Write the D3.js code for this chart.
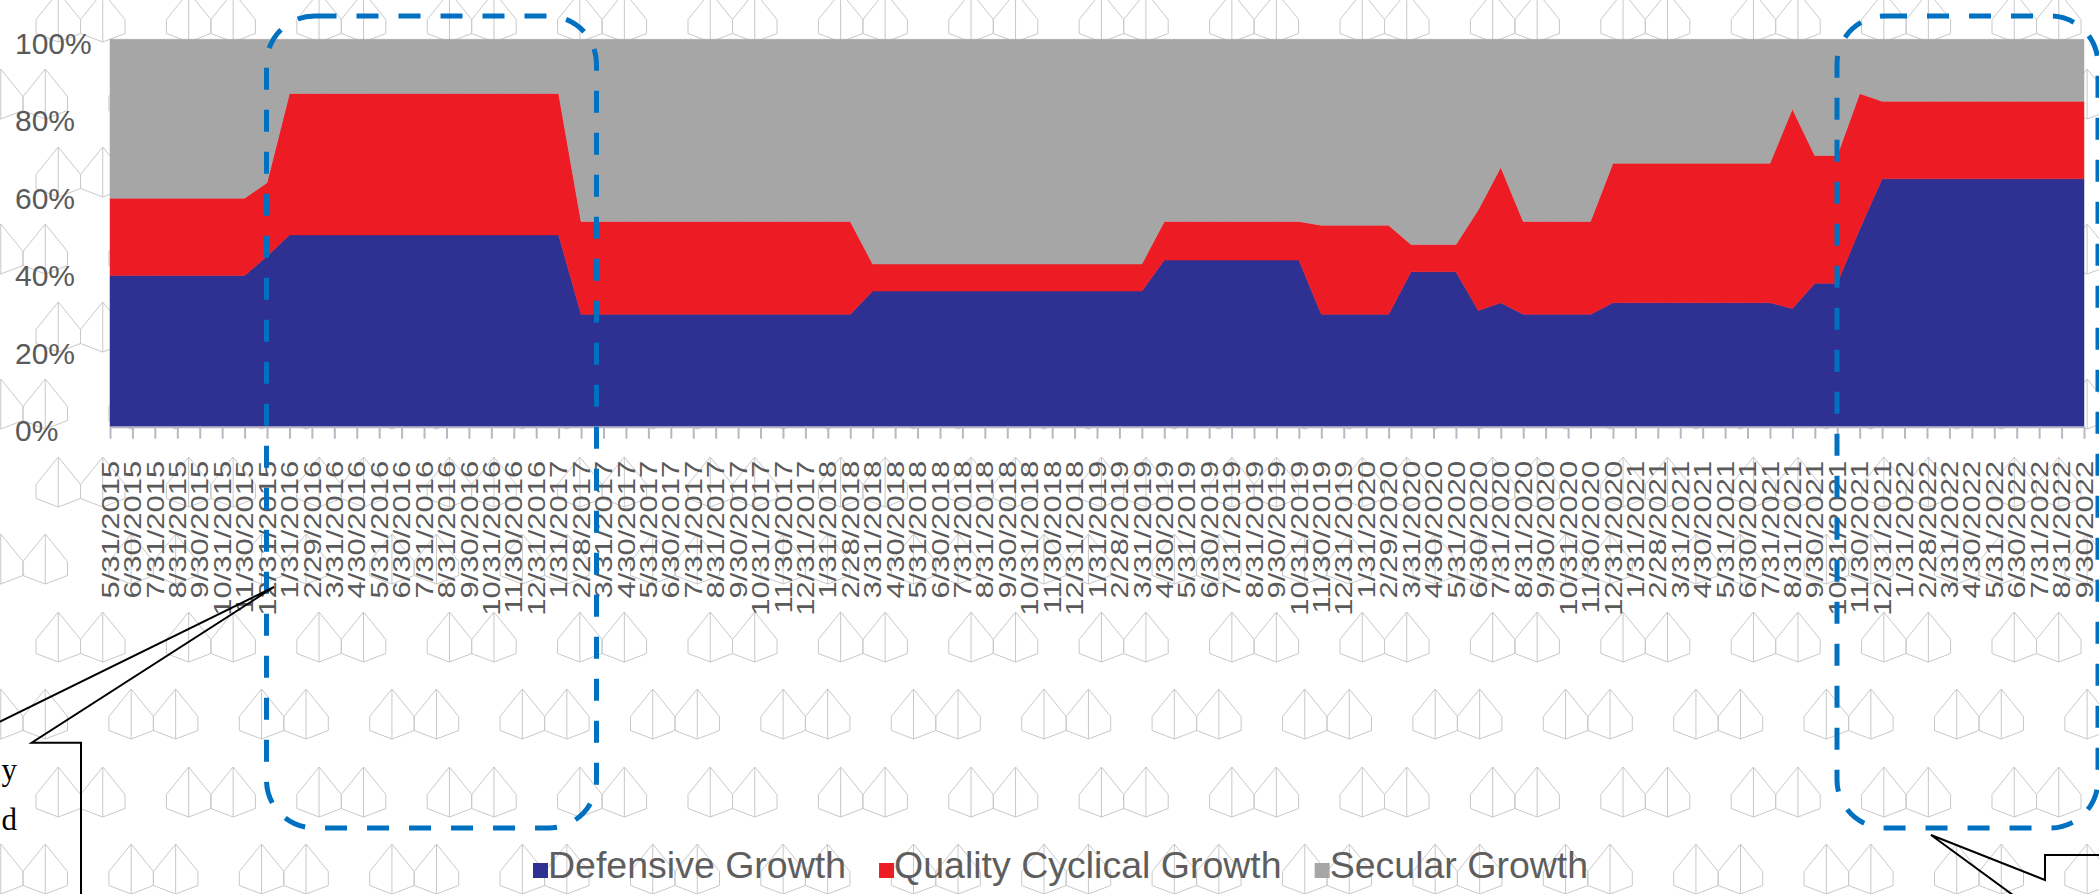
<!DOCTYPE html>
<html>
<head>
<meta charset="utf-8">
<script src="https://cdn.jsdelivr.net/npm/d3@7"></script>
<style>
  html, body { margin: 0; padding: 0; background: #fff; }
  svg { display: block; font-family: "Liberation Sans", Arial, sans-serif; }
</style>
</head>
<body>
<svg id="chart" width="2099" height="894"></svg>
<script>
// month-end dates on the category axis
var dates = [
  "5/31/2015","6/30/2015","7/31/2015","8/31/2015","9/30/2015","10/31/2015","11/30/2015","12/31/2015",
  "1/31/2016","2/29/2016","3/31/2016","4/30/2016","5/31/2016","6/30/2016","7/31/2016","8/31/2016","9/30/2016","10/31/2016","11/30/2016","12/31/2016",
  "1/31/2017","2/28/2017","3/31/2017","4/30/2017","5/31/2017","6/30/2017","7/31/2017","8/31/2017","9/30/2017","10/31/2017","11/30/2017","12/31/2017",
  "1/31/2018","2/28/2018","3/31/2018","4/30/2018","5/31/2018","6/30/2018","7/31/2018","8/31/2018","9/30/2018","10/31/2018","11/30/2018","12/31/2018",
  "1/31/2019","2/28/2019","3/31/2019","4/30/2019","5/31/2019","6/30/2019","7/31/2019","8/31/2019","9/30/2019","10/31/2019","11/30/2019","12/31/2019",
  "1/31/2020","2/29/2020","3/31/2020","4/30/2020","5/31/2020","6/30/2020","7/31/2020","8/31/2020","9/30/2020","10/31/2020","11/30/2020","12/31/2020",
  "1/31/2021","2/28/2021","3/31/2021","4/30/2021","5/31/2021","6/30/2021","7/31/2021","8/31/2021","9/30/2021","10/31/2021","11/30/2021","12/31/2021",
  "1/31/2022","2/28/2022","3/31/2022","4/30/2022","5/31/2022","6/30/2022","7/31/2022","8/31/2022","9/30/2022"
];

// shares in %, one value per date
var defensive = [
  39,39,39,39,39,39,39,44,
  49.5,49.5,49.5,49.5,49.5,49.5,49.5,49.5,49.5,49.5,49.5,49.5,
  49.5,29,29,29,29,29,29,29,29,29,29,29,
  29,29,35,35,35,35,35,35,35,35,35,35,
  35,35,35,43,43,43,43,43,43,43,29,29,
  29,29,40,40,40,30,32,29,29,29,29,32,
  32,32,32,32,32,32,32,30.5,37,37,51,64,
  64,64,64,64,64,64,64,64,64
];
var qualityCyclical = [
  20,20,20,20,20,20,20,19,
  36.5,36.5,36.5,36.5,36.5,36.5,36.5,36.5,36.5,36.5,36.5,36.5,
  36.5,24,24,24,24,24,24,24,24,24,24,24,
  24,24,7,7,7,7,7,7,7,7,7,7,
  7,7,7,10,10,10,10,10,10,10,23,23,
  23,23,7,7,7,26,35,24,24,24,24,36,
  36,36,36,36,36,36,36,51.5,33,33,35,20,
  20,20,20,20,20,20,20,20,20
];
var secular = [
  41,41,41,41,41,41,41,37,
  14,14,14,14,14,14,14,14,14,14,14,14,
  14,47,47,47,47,47,47,47,47,47,47,47,
  47,47,58,58,58,58,58,58,58,58,58,58,
  58,58,58,47,47,47,47,47,47,47,48,48,
  48,48,53,53,53,44,33,47,47,47,47,32,
  32,32,32,32,32,32,32,18,30,30,14,16,
  16,16,16,16,16,16,16,16,16
];

var seriesNames = ["Defensive Growth", "Quality Cyclical Growth", "Secular Growth"];
var seriesColors = ["#2E3192", "#ED1C24", "#A6A6A6"];
var yTicks = [0, 20, 40, 60, 80, 100];
var calloutText = ["y", "d"];

var margin = {top: 39.3, right: 15, bottom: 467.3, left: 110},
  W = 2099, H = 894,
  plotW = W - margin.left - margin.right,
  plotH = H - margin.top - margin.bottom;

var svg = d3.select('#chart');

// ---- background watermark (double chevron marks) ----
var wm = svg.append('g').attr('fill', 'none').attr('stroke', '#c8c8c8').attr('stroke-width', 1);
function unit(x, y) {
  var w = 44.5, h = 50, c = w / 2;
  return 'M' + (x + c) + ',' + y + 'L' + (x + w) + ',' + (y + 0.55 * h) + 'L' + (x + w) + ',' + (y + 0.83 * h) +
    'L' + (x + c) + ',' + (y + h) + 'L' + x + ',' + (y + 0.83 * h) + 'L' + x + ',' + (y + 0.55 * h) + 'Z' +
    'M' + (x + c) + ',' + y + 'L' + (x + c) + ',' + (y + h);
}
for (var k = 0; k < 7; k++) {
  for (var j = -1; j < 17; j++) {
    var ax = 36 + 130.4 * j, ay = -8 + 155 * k;
    wm.append('path').attr('d', unit(ax, ay) + unit(ax + 44.5, ay));
    var bx = -21.5 + 130.4 * j, by = 69 + 155 * k;
    wm.append('path').attr('d', unit(bx, by) + unit(bx + 44.5, by));
  }
}

// ---- stacked area ----
var rows = dates.map(function(d, i) {
  return {date: d, def: defensive[i], qc: qualityCyclical[i], sec: secular[i]};
});
var stack = d3.stack().keys(['def', 'qc', 'sec']);
var layers = stack(rows);

var x = d3.scalePoint().domain(dates).range([0, plotW]);
var y = d3.scaleLinear().domain([0, 100]).range([plotH, 0]);

var g = svg.append('g').attr('transform', 'translate(' + margin.left + ',' + margin.top + ')');

var area = d3.area()
  .x(function(d) { return x(d.data.date); })
  .y0(function(d) { return y(d[0]); })
  .y1(function(d) { return y(d[1]); });

g.selectAll('.layer')
  .data(layers)
  .enter().append('path')
  .attr('class', 'layer')
  .attr('fill', function(d, i) { return seriesColors[i]; })
  .attr('stroke', function(d, i) { return seriesColors[i]; })
  .attr('stroke-width', 0.5)
  .attr('d', area);

// x axis
var xAxis = d3.axisBottom(x).tickSize(12).tickSizeOuter(0);
var xg = g.append('g')
  .attr('transform', 'translate(0,' + plotH + ')')
  .call(xAxis);
xg.select('.domain').attr('stroke', '#b4b4c4').attr('stroke-width', 2);
xg.selectAll('.tick line').attr('stroke', '#b8b8c4').attr('stroke-width', 2);
xg.selectAll('.tick text')
  .attr('font-size', 31)
  .attr('font-family', '"Liberation Sans", Arial, sans-serif')
  .attr('fill', '#5a5a5a')
  .attr('text-anchor', 'end')
  .attr('x', -34)
  .attr('y', 0)
  .attr('dy', '0.35em')
  .attr('transform', 'rotate(-90) scale(1,0.75)');

// y axis
var yAxis = d3.axisLeft(y).tickValues(yTicks).tickSize(0).tickFormat(function(d) { return d + '%'; });
var yg = g.append('g').call(yAxis);
yg.select('.domain').remove();
yg.selectAll('.tick text')
  .attr('font-size', 30)
  .attr('font-family', '"Liberation Sans", Arial, sans-serif')
  .attr('fill', '#5a5a5a')
  .attr('text-anchor', 'start')
  .attr('x', 15 - margin.left)
  .attr('dy', '0.46em');

// ---- legend ----
var legend = svg.append('g').attr('transform', 'translate(533,878)');
var lx = 0;
seriesNames.forEach(function(name, i) {
  legend.append('rect')
    .attr('x', lx).attr('y', -15).attr('width', 15).attr('height', 15)
    .attr('fill', seriesColors[i]);
  var t = legend.append('text')
    .attr('x', lx + 15).attr('y', 0)
    .attr('font-size', 37.5).attr('fill', '#5e5e5e')
    .text(name);
  lx += 15 + t.node().getComputedTextLength() + 33;
});

// ---- dashed highlight boxes ----
var boxes = [
  {x: 266.5, y: 16, w: 330, h: 812},
  {x: 1837, y: 16, w: 261, h: 812}
];
svg.selectAll('.hl')
  .data(boxes)
  .enter().append('rect')
  .attr('class', 'hl')
  .attr('x', function(d) { return d.x; })
  .attr('y', function(d) { return d.y; })
  .attr('width', function(d) { return d.w; })
  .attr('height', function(d) { return d.h; })
  .attr('rx', 48).attr('ry', 48)
  .attr('fill', 'none')
  .attr('stroke', '#0070C0')
  .attr('stroke-width', 5)
  .attr('stroke-dasharray', '22,20');

// ---- callouts ----
svg.append('path')
  .attr('d', 'M-120,742.7L-42.7,742.7L274,587L31.7,742.7L81,742.7L81,900')
  .attr('fill', 'none').attr('stroke', '#000').attr('stroke-width', 2);
svg.append('path')
  .attr('d', 'M2110,855L2045,855L2045,880L1931,835L2045,918.5L2045,960')
  .attr('fill', 'none').attr('stroke', '#000').attr('stroke-width', 2);

svg.selectAll('.ct')
  .data(calloutText)
  .enter().append('text')
  .attr('class', 'ct')
  .attr('x', 17)
  .attr('y', function(d, i) { return 780 + i * 50; })
  .attr('text-anchor', 'end')
  .attr('font-family', '"Liberation Serif", "Times New Roman", serif')
  .attr('font-size', 31)
  .attr('fill', '#000')
  .text(function(d) { return d; });
</script>
</body>
</html>
